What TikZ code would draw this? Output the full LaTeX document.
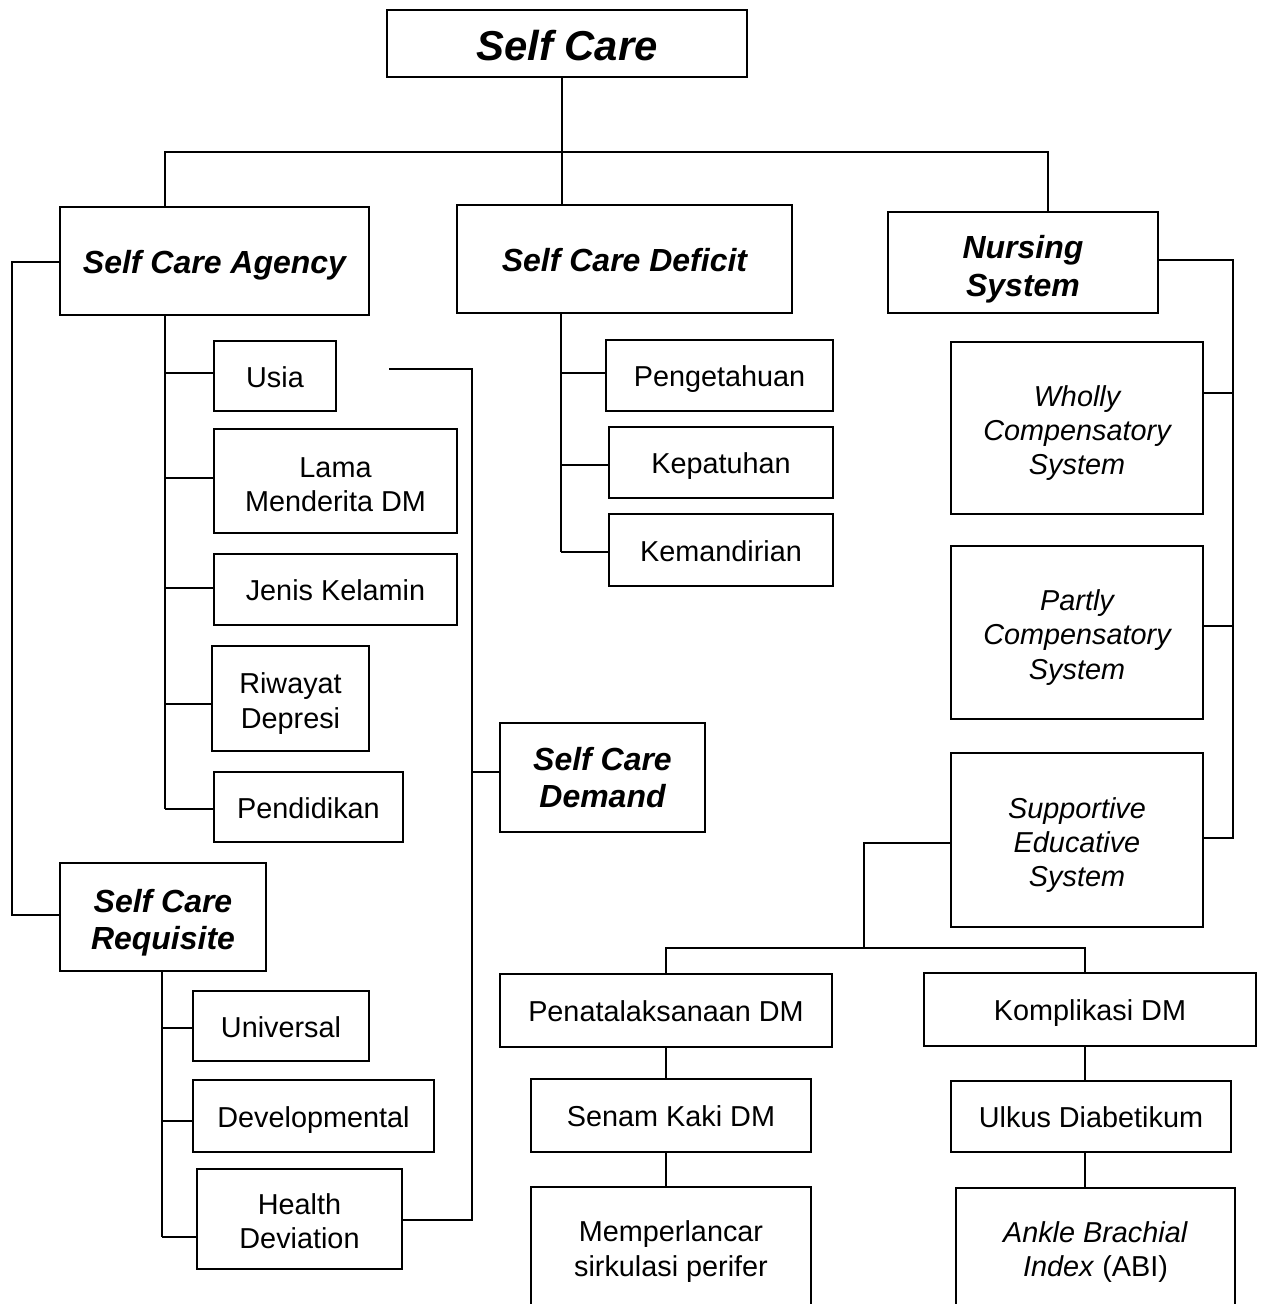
\documentclass[tikz,border=0pt]{standalone}
\usepackage{fontspec}
\setmainfont{Liberation Sans}
\newcommand\rstrut{\vrule width0pt height16.3pt depth3.4pt\relax}
\newcommand\tstrut{\vrule width0pt height18pt depth3.8pt\relax}
\newcommand\hstrut{\vrule width0pt height25pt depth5.2pt\relax}
\newcommand\fs[1]{\vrule width0pt height#1pt depth0pt\relax}
\begin{document}
\begin{tikzpicture}[x=0.02cm,y=-0.02cm,
  mbox/.style={draw,line width=1.65pt,inner sep=0pt,align=center,font=\fontsize{16.4}{19.4}\selectfont},
  box/.style={mbox,execute at begin node=\rstrut, execute at end node=\rstrut},
  mibox/.style={mbox,font=\fontsize{16.4}{19.4}\selectfont\itshape},
  mtbox/.style={draw,line width=1.65pt,inner sep=0pt,align=center,font=\fontsize{18.2}{21.5}\selectfont\bfseries\itshape},
  tbox/.style={mtbox,execute at begin node=\tstrut, execute at end node=\tstrut},
  hbox/.style={draw,line width=1.65pt,inner sep=0pt,align=center,font=\fontsize{23.8}{28}\selectfont\bfseries\itshape,
    execute at begin node=\hstrut, execute at end node=\hstrut},
  conn/.style={line width=1.65pt}]
\useasboundingbox (0,0) rectangle (1265,1304);
\fill[white] (0,0) rectangle (1265,1304);
% nodes
\node[hbox,minimum width=7.2cm,minimum height=1.34cm] (top) at (567,43.5) {Self Care};
\node[tbox,minimum width=6.18cm,minimum height=2.16cm] (agency) at (214.5,261) {Self Care Agency};
\node[tbox,minimum width=6.7cm,minimum height=2.16cm] (deficit) at (624.5,259) {Self Care Deficit};
\node[mtbox,minimum width=5.4cm,minimum height=2.02cm] (nursing) at (1023,262.5) {\fs{20.7}Nursing\\System};
\node[box,minimum width=2.44cm,minimum height=1.4cm] (usia) at (275,376) {Usia};
\node[mbox,minimum width=4.86cm,minimum height=2.08cm] (lama) at (335.5,481) {\fs{15.8}Lama\\Menderita DM};
\node[box,minimum width=4.86cm,minimum height=1.42cm] (jenis) at (335.5,589.5) {Jenis Kelamin};
\node[mbox,minimum width=3.14cm,minimum height=2.1cm] (riwayat) at (290.5,698.5) {\fs{17.6}Riwayat\\Depresi};
\node[box,minimum width=3.78cm,minimum height=1.4cm] (pend) at (308.5,807) {Pendidikan};
\node[box,minimum width=4.54cm,minimum height=1.42cm] (peng) at (719.5,375.5) {Pengetahuan};
\node[box,minimum width=4.48cm,minimum height=1.42cm] (kepat) at (721,462.5) {Kepatuhan};
\node[box,minimum width=4.48cm,minimum height=1.44cm] (keman) at (721,550) {Kemandirian};
\node[mibox,minimum width=5.04cm,minimum height=3.44cm] (wholly) at (1077,428) {\fs{17.6}Wholly\\Compensatory\\System};
\node[mibox,minimum width=5.04cm,minimum height=3.46cm] (partly) at (1077,632.5) {\fs{17.6}Partly\\Compensatory\\System};
\node[mibox,minimum width=5.04cm,minimum height=3.48cm] (supp) at (1077,840) {\fs{17.6}Supportive\\Educative\\System};
\node[mtbox,minimum width=4.1cm,minimum height=2.18cm] (demand) at (602.5,777.5) {Self Care\\Demand};
\node[mtbox,minimum width=4.12cm,minimum height=2.16cm] (req) at (163,917) {\fs{19.6}Self Care\\Requisite};
\node[box,minimum width=3.52cm,minimum height=1.4cm] (univ) at (281,1026) {Universal};
\node[box,minimum width=4.82cm,minimum height=1.44cm] (dev) at (313.5,1116) {Developmental};
\node[mbox,minimum width=4.1cm,minimum height=2cm] (health) at (299.5,1219) {\fs{14.7}Health\\Deviation};
\node[box,minimum width=6.64cm,minimum height=1.46cm] (penat) at (666,1010.5) {Penatalaksanaan DM};
\node[box,minimum width=6.64cm,minimum height=1.46cm] (kompl) at (1090,1009.5) {Komplikasi DM};
\node[box,minimum width=5.6cm,minimum height=1.46cm] (senam) at (671,1115.5) {Senam Kaki DM};
\node[box,minimum width=5.6cm,minimum height=1.42cm] (ulkus) at (1091,1116.5) {Ulkus Diabetikum};
\node[mbox,minimum width=5.6cm,minimum height=2.4cm] (memp) at (671,1247) {\fs{17}Memperlancar\\sirkulasi perifer};
\node[mbox,minimum width=5.58cm,minimum height=2.38cm] (abi) at (1095.5,1247.5) {\fs{17}\textit{Ankle Brachial}\\\textit{Index} (ABI)};
% helper coordinates
\coordinate (xTop) at (562,0);
\coordinate (xL) at (165,0);
\coordinate (xR) at (1048,0);
\coordinate (xA) at (165,0);
\coordinate (xD) at (561,0);
\coordinate (xQ) at (162,0);
\coordinate (xP) at (666,0);
\coordinate (xK) at (1085,0);
\coordinate (uend) at (389,369);
% top level
\draw[conn] (top.south -| xTop) -- (deficit.north -| xTop);
\draw[conn] (agency.north -| xL) -- (165,152) -- (1048,152) -- (nursing.north -| xR);
% agency
\draw[conn] (agency.west |- 0,262) -- (12,262) -- (12,915) -- (req.west |- 0,915);
\draw[conn] (agency.south -| xA) -- (165,809);
\draw[conn] (usia.west |- 0,373) -- (165,373);
\draw[conn] (lama.west |- 0,478) -- (165,478);
\draw[conn] (jenis.west |- 0,588) -- (165,588);
\draw[conn] (riwayat.west |- 0,704) -- (165,704);
\draw[conn] (pend.west |- 0,809) -- (165,809);
% demand bracket
\draw[conn] (uend) -- (472,369) -- (472,1220) -- (health.east |- 0,1220);
\draw[conn] (472,772) -- (demand.west |- 0,772);
% deficit
\draw[conn] (deficit.south -| xD) -- (561,552);
\draw[conn] (peng.west |- 0,373) -- (561,373);
\draw[conn] (kepat.west |- 0,465) -- (561,465);
\draw[conn] (keman.west |- 0,552) -- (561,552);
% nursing
\draw[conn] (nursing.east |- 0,260) -- (1233,260) -- (1233,838) -- (supp.east |- 0,838);
\draw[conn] (wholly.east |- 0,393) -- (1233,393);
\draw[conn] (partly.east |- 0,626) -- (1233,626);
% supportive
\draw[conn] (supp.west |- 0,843) -- (864,843) -- (864,948);
\draw[conn] (penat.north -| xP) -- (666,948) -- (1085,948) -- (kompl.north -| xK);
\draw[conn] (penat.south -| xP) -- (senam.north -| xP);
\draw[conn] (senam.south -| xP) -- (memp.north -| xP);
\draw[conn] (kompl.south -| xK) -- (ulkus.north -| xK);
\draw[conn] (ulkus.south -| xK) -- (abi.north -| xK);
% requisite
\draw[conn] (req.south -| xQ) -- (162,1237);
\draw[conn] (univ.west |- 0,1028) -- (162,1028);
\draw[conn] (dev.west |- 0,1121) -- (162,1121);
\draw[conn] (health.west |- 0,1237) -- (162,1237);
\end{tikzpicture}
\end{document}
